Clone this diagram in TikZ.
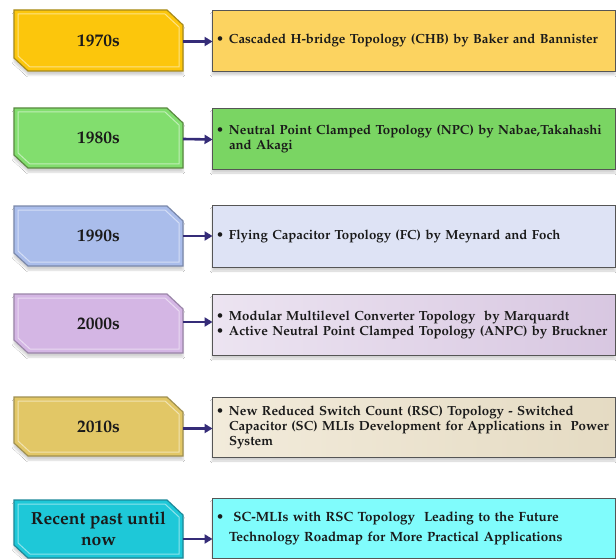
\documentclass[tikz,border=0pt]{standalone}
\usepackage[T1]{fontenc}
\usepackage{mathpazo}
\usetikzlibrary{arrows.meta,shadows.blur}

\definecolor{txt}{HTML}{1A1A1A}
\definecolor{arrowc}{HTML}{352C78}
\definecolor{descborder}{HTML}{555555}

% year labels: fill / border
\definecolor{yA}{HTML}{FCC60C}\definecolor{yAb}{HTML}{A68A1A}
\definecolor{yB}{HTML}{82DE6E}\definecolor{yBb}{HTML}{5A8A40}
\definecolor{yC}{HTML}{AABDEB}\definecolor{yCb}{HTML}{7A88AA}
\definecolor{yD}{HTML}{D4B6E4}\definecolor{yDb}{HTML}{9A85A8}
\definecolor{yE}{HTML}{E2C766}\definecolor{yEb}{HTML}{A09050}
\definecolor{yF}{HTML}{1EC8D8}\definecolor{yFb}{HTML}{1C8A9A}
% description boxes
\definecolor{dA}{HTML}{FCD360}
\definecolor{dB}{HTML}{7AD563}
\definecolor{dC}{HTML}{DEE3F5}
\definecolor{dDl}{HTML}{ECE4F1}\definecolor{dDr}{HTML}{D8C7E1}
\definecolor{dEl}{HTML}{F2EBDB}\definecolor{dEr}{HTML}{E5DBC3}
\definecolor{dF}{HTML}{80FCFC}

\newcommand\nohyph{\hyphenpenalty=10000\exhyphenpenalty=10000}

\tikzset{
  softshadow/.style={blur shadow={shadow xshift=0pt, shadow yshift=-4pt,
      shadow blur steps=6, shadow opacity=18}},
  yeartext/.style={inner sep=0pt, minimum width=169pt, align=center,
      text=txt, font=\fontsize{17.5}{21}\selectfont\bfseries},
  descbox/.style={draw=descborder, line width=0.9pt, minimum width=403pt,
      text width=395pt, inner xsep=4pt, inner ysep=0pt, align=left,
      text=txt, font=\fontsize{13.2}{15}\selectfont\bfseries\nohyph, softshadow},
  linkarrow/.style={draw=arrowc, line width=2.6pt,
      -{Triangle[length=8pt,width=9pt]}, shorten >=-1pt},
}

% bulleted entry: bullet followed by a block with its own line breaks
\newcommand\bitem[1]{\noindent\makebox[13pt][l]{\textbullet}%
  \parbox[t]{382pt}{\raggedright\nohyph #1}\par}

% year label: name, top, bottom, fill, border, text
\newcommand\yearbox[6]{%
  \path[fill=#4, draw=#5, line width=1.2pt, softshadow]
    (14,#2) -- (167,#2) -- (183,{#2+15}) -- (183,#3) -- (28,#3) -- (14,{#3-13}) -- cycle;
  \draw[white, opacity=0.5, line width=1pt]
    (18,{#2+4}) -- (165,{#2+4}) -- (179,{#2+17}) -- (179,{#3-4}) -- (30,{#3-4}) -- (18,{#3-15}) -- cycle;
  \node[yeartext, minimum height={(#3-#2)*1pt}] (#1) at (98.5,{(#2+#3)/2}) {#6};
}

\begin{document}
\begin{tikzpicture}[x=1pt,y=-1pt]
  \fill[white] (0,0) rectangle (616,559);
  \useasboundingbox (0,0) rectangle (616,559);

  % 1970s
  \yearbox{L1}{10}{71}{yA}{yAb}{1970s}
  \node[descbox, fill=dA, minimum height=61pt] (D1) at (413.5,40.5)
    {\bitem{Cascaded H-bridge Topology (CHB) by Baker and Bannister}};
  \draw[linkarrow] ([yshift=-1pt]L1.east) -- ([yshift=-1pt]D1.west);

  % 1980s
  \yearbox{L2}{108}{168}{yB}{yBb}{1980s}
  \node[descbox, fill=dB, minimum height=61pt] (D2) at (413.5,138.5)
    {\bitem{Neutral Point Clamped Topology (NPC) by Nabae,Takahashi and Akagi}};
  \draw[linkarrow] ([yshift=-1pt]L2.east) -- ([yshift=-1pt]D2.west);

  % 1990s
  \yearbox{L3}{206}{266}{yC}{yCb}{1990s}
  \node[descbox, fill=dC, minimum height=62pt] (D3) at (413.5,236)
    {\bitem{Flying Capacitor Topology (FC) by Meynard and Foch}};
  \draw[linkarrow] (L3.east) -- (L3.east -| D3.west);

  % 2000s
  \yearbox{L4}{294}{353}{yD}{yDb}{2000s}
  \node[descbox, left color=dDl, right color=dDr, minimum height=61pt] (D4) at (413.5,324.5)
    {\bitem{Modular Multilevel Converter Topology\ \ by Marquardt}
     \bitem{Active Neutral Point Clamped Topology (ANPC) by Bruckner}};
  \draw[linkarrow] ([yshift=1.5pt]L4.east) -- ([yshift=1.5pt]L4.east -| D4.west);

  % 2010s
  \yearbox{L5}{397}{456}{yE}{yEb}{2010s}
  \node[descbox, left color=dEl, right color=dEr, minimum height=60pt] (D5) at (413.5,427)
    {\bitem{New Reduced Switch Count (RSC) Topology - Switched Capacitor (SC) MLIs Development for Applications in\ \ Power System}};
  \draw[linkarrow] ([yshift=-2pt]L5.east) -- ([yshift=-2pt]L5.east -| D5.west);

  % recent years
  \yearbox{L6}{500}{558}{yF}{yFb}{Recent past until\\now}
  \node[descbox, fill=dF, minimum height=60pt, font=\fontsize{13.4}{20}\selectfont\bfseries\nohyph] (D6) at (413.5,528)
    {\bitem{\ SC-MLIs with RSC Topology\ \ Leading to the Future\\Technology Roadmap for More Practical Applications}};
  \draw[linkarrow] ([yshift=-10pt]L6.east) -- ([yshift=-10pt]L6.east -| D6.west);
\end{tikzpicture}
\end{document}
